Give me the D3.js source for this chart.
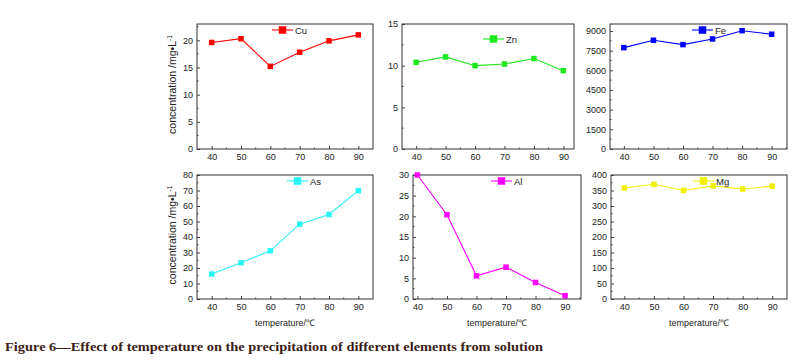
<!DOCTYPE html>
<html><head><meta charset="utf-8">
<script src="https://cdn.jsdelivr.net/npm/d3@7"></script>
<style>body{margin:0;background:#fff}svg{display:block}</style>
</head><body><svg id="c" width="794" height="362"></svg>
<script>
const temperatures = [40, 50, 60, 70, 80, 90];
const cuValues = [19.6, 20.3, 15.2, 17.8, 19.9, 21.0];
const znValues = [10.4, 11.05, 10.0, 10.2, 10.85, 9.4];
const feValues = [7730, 8290, 7960, 8390, 9020, 8750];
const asValues = [16.1, 23.4, 31.1, 48.3, 54.5, 69.9];
const alValues = [30.0, 20.4, 5.6, 7.7, 4.0, 0.8];
const mgValues = [358, 370, 350, 365, 355, 364];
const xTicks = [40, 50, 60, 70, 80, 90];
const cuTicks = [0, 5, 10, 15, 20];
const znTicks = [0, 5, 10, 15];
const feTicks = [0, 1500, 3000, 4500, 6000, 7500, 9000];
const asTicks = [0, 10, 20, 30, 40, 50, 60, 70, 80];
const alTicks = [0, 5, 10, 15, 20, 25, 30];
const mgTicks = [0, 50, 100, 150, 200, 250, 300, 350, 400];
const elements = ["Cu", "Zn", "Fe", "As", "Al", "Mg"];
const yTitle = "concentration /mg\u2022L";
const xTitle = "temperature/\u2103";
const caption = "Figure 6\u2014Effect of temperature on the precipitation of different elements from solution";

const panels = [
  {name:"Cu", vals:cuValues, ticks:cuTicks, ymax:23, color:"#ff0000", box:[197,24,373,149], xd:[35,95], leg:[272,30], ytitle:true},
  {name:"Zn", vals:znValues, ticks:znTicks, ymax:15, color:"#1ee81e", box:[402,24,574,149], xd:[35.2,93.6], leg:[483,39]},
  {name:"Fe", vals:feValues, ticks:feTicks, ymax:9530, color:"#0000ff", box:[610,24,787,149], xd:[35.3,95.2], leg:[692,30]},
  {name:"As", vals:asValues, ticks:asTicks, ymax:80, color:"#2af5f5", box:[197,175,373,299], xd:[35,95], leg:[287,181], ytitle:true, xtitle:true},
  {name:"Al", vals:alValues, ticks:alTicks, ymax:30, color:"#ff00ff", box:[413,175,581,299], xd:[38.5,95.4], leg:[491,181], xtitle:true},
  {name:"Mg", vals:mgValues, ticks:mgTicks, ymax:400, color:"#f0f000", box:[611,175,787,299], xd:[35.5,95], leg:[693,181], xtitle:true}
];

const svg = d3.select("#c");
const font = "'Liberation Sans', Arial, sans-serif";

panels.forEach(p => {
  const [x0,y0,x1,y1] = p.box;
  const x = d3.scaleLinear().domain(p.xd).range([x0,x1]);
  const y = d3.scaleLinear().domain([0,p.ymax]).range([y1,y0]);
  const g = svg.append("g");
  const xMinor = xTicks.map(t => t + 5).concat([xTicks[0]-5]).filter(t => t > p.xd[0] && t < p.xd[1]);
  const step = p.ticks[1]-p.ticks[0];
  const yMinor = p.ticks.map(t => t + step/2).filter(t => t < p.ymax);
  const xa = g.append("g").attr("transform",`translate(0,${y1})`)
    .call(d3.axisBottom(x).tickValues(xTicks).tickFormat(d3.format("d")).tickSizeInner(-3).tickSizeOuter(0).tickPadding(5));
  xa.selectAll("text").attr("font-size",9).attr("font-family",font).attr("fill","#222");
  xa.append("g").selectAll("line").data(xMinor).join("line")
    .attr("x1",d=>x(d)).attr("x2",d=>x(d)).attr("y1",0).attr("y2",-1.5).attr("stroke","#444");
  const ya = g.append("g").attr("transform",`translate(${x0},0)`)
    .call(d3.axisLeft(y).tickValues(p.ticks).tickFormat(d3.format("d")).tickSizeInner(-3).tickSizeOuter(0).tickPadding(4));
  ya.selectAll("text").attr("font-size",9).attr("font-family",font).attr("fill","#222");
  ya.append("g").selectAll("line").data(yMinor).join("line")
    .attr("y1",d=>y(d)).attr("y2",d=>y(d)).attr("x1",0).attr("x2",1.5).attr("stroke","#444");
  g.selectAll(".domain").remove();
  g.selectAll(".tick line").attr("stroke","#444");
  g.append("rect").attr("x",x0).attr("y",y0).attr("width",x1-x0).attr("height",y1-y0)
    .attr("fill","none").attr("stroke","#333").attr("stroke-width",1);
  const data = temperatures.map((t,i)=>[t,p.vals[i]]);
  g.append("path").datum(data).attr("fill","none").attr("stroke",p.color).attr("stroke-width",1.1)
    .attr("d", d3.line().x(d=>x(d[0])).y(d=>y(d[1])));
  const ms = 5.5;
  g.selectAll(".pt").data(data).join("rect").attr("class","pt")
    .attr("x",d=>x(d[0])-ms/2).attr("y",d=>y(d[1])-ms/2).attr("width",ms).attr("height",ms)
    .attr("fill",p.color);
  const [lx,ly] = p.leg;
  g.append("line").attr("x1",lx).attr("x2",lx+21).attr("y1",ly).attr("y2",ly).attr("stroke",p.color).attr("stroke-width",1.1);
  g.append("rect").attr("x",lx+10.5-3.75).attr("y",ly-3.75).attr("width",7.5).attr("height",7.5).attr("fill",p.color);
  g.append("text").attr("x",lx+23).attr("y",ly+3.5).attr("font-size",9.5).attr("font-family",font).attr("fill","#222").text(p.name);
  if (p.ytitle) {
    const cy = (y0+y1)/2 - 2, cx = 176;
    const t = g.append("text").attr("transform",`translate(${cx},${cy}) rotate(-90)`)
      .attr("text-anchor","middle").attr("font-size",10.5).attr("font-family",font).attr("fill","#222");
    t.append("tspan").text(yTitle);
    t.append("tspan").attr("dy",-4.5).attr("font-size",6.5).text("-1");
  }
  if (p.xtitle) {
    g.append("text").attr("x",(x0+x1)/2).attr("y",326).attr("text-anchor","middle")
      .attr("font-size",9).attr("font-family",font).attr("fill","#222").text(xTitle);
  }
});

svg.append("text").attr("x",5).attr("y",351).attr("font-size",13).attr("font-weight","bold")
  .attr("textLength",538).attr("lengthAdjust","spacingAndGlyphs")
  .attr("font-family","'Liberation Serif', 'DejaVu Serif', serif").attr("fill","#3b1c17").text(caption);
</script>
</body></html>
